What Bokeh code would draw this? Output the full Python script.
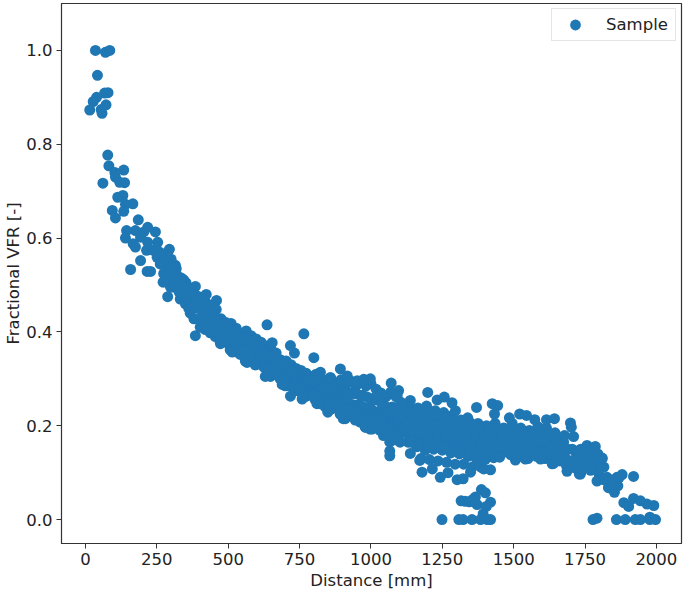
from bokeh.embed import file_html
from bokeh.resources import INLINE
from bokeh.plotting import figure
from bokeh.models import ColumnDataSource, FixedTicker, Legend, LegendItem, Range1d, PrintfTickFormatter

head_x = [35,70,85,42,79,67,39,27,72,15,55,58,78,82,134,103,105,61,120,137,131,113,166,140,134,94,105,185,144,218,245,140,175,204,193,167,175,253,218,214,294,238,193,158,216,228,251,274,263,315,286,274,309,344,272,321,298,385,288,344,423,374,403,459]
head_y = [1.0,.996,1.0,.947,.91,.909,.90,.891,.884,.873,.874,.866,.777,.754,.745,.74,.73,.717,.719,.718,.691,.687,.673,.672,.657,.659,.643,.639,.616,.623,.613,.60,.616,.613,.602,.588,.581,.591,.591,.574,.576,.574,.552,.533,.529,.529,.559,.556,.545,.542,.538,.524,.524,.511,.506,.502,.495,.497,.475,.481,.48,.485,.474,.467]

upper_x = [300,318,335,352,370,388,405,423,440,458,475,492,510,528,545,563,580,598,615,632,650,668,685,703,720,738,755,773,790,808,825,843,860,878,895,913,930,948,965,983,1000,1018,1035,1053,1070,1088]
upper_y = [.555,.535,.515,.505,.490,.478,.470,.462,.455,.448,.428,.420,.418,.408,.395,.402,.392,.385,.378,.370,.362,.355,.340,.338,.330,.322,.318,.312,.305,.310,.302,.296,.300,.290,.298,.288,.295,.285,.292,.285,.290,.278,.270,.262,.272,.262]

mid_x = [308,325,343,360,378,395,413,430,448,465,483,500,518,535,553,570,588,605,623,640,658,675,693,710,728,745,763,780,798,815,833,850,868,885,903,920,938,955,973,990,1008,1025,1043,1060,1078,1095]
mid_y = [.520,.500,.490,.470,.455,.450,.435,.425,.420,.408,.398,.395,.385,.375,.372,.365,.355,.350,.345,.335,.330,.320,.310,.305,.298,.292,.290,.285,.280,.278,.270,.268,.262,.258,.255,.250,.245,.245,.240,.235,.232,.228,.220,.218,.212,.208]

low_x = [315,332,350,367,385,402,420,437,455,472,490,507,525,542,560,577,595,612,630,648,665,682,700,718,735,752,770,788,805,822,840,858,875,892,910,927,945,962,980,997,1015,1032,1050,1067,1085,1102]
low_y = [.495,.470,.460,.440,.392,.410,.405,.398,.390,.378,.378,.362,.358,.352,.338,.345,.330,.335,.305,.305,.315,.300,.285,.263,.275,.272,.262,.265,.255,.247,.240,.235,.238,.225,.215,.222,.212,.208,.197,.193,.200,.190,.182,.175,.170,.165]

fill1_x = [410,445,480,515,550,585,620,655,690,725,760,795,830,865,900,935,970,1005,1040,1075]
fill1_y = [.452,.440,.412,.402,.388,.375,.362,.348,.322,.315,.305,.295,.288,.280,.275,.270,.265,.258,.245,.240]
fill2_x = [420,455,490,525,560,595,630,665,700,735,770,805,840,875,910,945,980,1015,1050,1085]
fill2_y = [.418,.405,.388,.370,.355,.342,.328,.312,.295,.283,.275,.268,.255,.250,.235,.228,.218,.215,.200,.190]
fill3_x = [260,275,290,305,322,338,355,372,390,408,425,442,460,478,496,512,530,548,565,582,600,618,635,652,670,688,705,722,740,758,775,792,810,828,845,862,880,898,915,932,950,968,985,1002,1020,1038,1055,1072,1090]
fill3_y = [.570,.560,.545,.535,.520,.505,.495,.475,.465,.445,.440,.432,.428,.415,.408,.402,.392,.385,.385,.375,.370,.362,.355,.350,.340,.330,.322,.315,.308,.302,.298,.292,.292,.285,.282,.282,.275,.275,.272,.268,.268,.262,.262,.252,.255,.248,.240,.232,.228]
fill4_x = [262,280,298,312,328,345,362,380,398,415,432,450,468,485,503,520,538,555,572,590,608,625,642,660,678,695,712,730,748,765,782,800,818,835,852,870,888,905,922,940,958,975,993,1010,1028,1045,1062,1080,1098]
fill4_y = [.545,.525,.510,.505,.485,.475,.450,.428,.428,.420,.410,.405,.392,.390,.378,.370,.362,.360,.350,.335,.340,.325,.318,.320,.305,.300,.285,.285,.278,.275,.270,.265,.262,.255,.248,.248,.242,.235,.235,.225,.225,.218,.215,.212,.205,.200,.195,.190,.182]

outer_a_x = [636,765,718,732,800,654,893,823,917,858,952,975,998,1071,1097,1092,1138,689,759,811,849,903,981,1004,1044,1066,1066,1066,1138,1171,1179,473,514,566,596]
outer_a_y = [.415,.396,.371,.355,.345,.377,.321,.314,.306,.303,.296,.299,.30,.291,.275,.264,.254,.288,.257,.247,.229,.215,.197,.193,.179,.165,.146,.136,.141,.126,.101,.375,.357,.335,.33]

t1_x = [1105,1135,1165,1195,1225,1255,1285,1315,1345,1375,1405,1435,1465,1495,1525,1555,1585,1615,1645,1675]
t1_y = [.250,.240,.238,.242,.232,.228,.222,.212,.208,.205,.200,.205,.195,.205,.195,.190,.198,.195,.185,.165]
t2_x = [1120,1150,1180,1210,1240,1270,1300,1330,1360,1390,1420,1450,1480,1510,1540,1570,1600,1630,1660,1690]
t2_y = [.225,.218,.215,.215,.212,.205,.198,.195,.190,.190,.185,.185,.180,.178,.172,.175,.180,.172,.160,.150]
t3_x = [1108,1138,1168,1198,1228,1258,1288,1318,1348,1378,1408,1438,1468,1498,1528,1558,1588,1618,1648,1678]
t3_y = [.205,.198,.195,.192,.190,.188,.180,.175,.172,.170,.168,.168,.165,.160,.158,.160,.158,.155,.145,.135]
t4_x = [1122,1152,1182,1212,1242,1272,1302,1332,1362,1392,1422,1452,1482,1512,1542,1572,1602,1632,1662,1692]
t4_y = [.185,.178,.172,.170,.168,.165,.160,.155,.152,.150,.152,.150,.148,.142,.140,.145,.140,.135,.125,.118]
t5_x = [1130,1160,1190,1220,1250,1280,1310,1340,1370,1400,1430,1460,1490,1520,1550,1580,1610,1640]
t5_y = [.165,.155,.148,.150,.148,.142,.140,.135,.130,.128,.132,.142,.138,.135,.130,.135,.130,.120]
t6_x = [1175,1205,1235,1265,1295,1325,1355,1385]
t6_y = [.130,.128,.125,.122,.118,.118,.112,.112]
t7_x = [1215,1243,1270,1302,1323,1349,1395,1419]
t7_y = [.108,.090,.100,.085,.087,.101,.108,.106]
t8_x = [1112,1142,1172,1202,1232,1262,1292,1322,1352,1382,1412,1442,1472,1502,1532,1562,1592,1622,1652]
t8_y = [.235,.228,.225,.228,.222,.218,.210,.205,.200,.198,.195,.195,.190,.192,.185,.182,.190,.184,.172]
t9_x = [1115,1145,1175,1205,1235,1265,1295,1325,1355,1385,1415,1445,1475,1505,1535,1565,1595,1625,1655,1685]
t9_y = [.195,.188,.182,.182,.180,.178,.170,.165,.162,.160,.160,.158,.157,.152,.150,.152,.150,.145,.135,.128]
t10_x = [1100,1128,1158,1188,1218,1248,1278,1308,1338,1368,1398,1428,1458,1488,1518,1548,1578,1608,1638,1668]
t10_y = [.215,.208,.205,.202,.200,.200,.192,.185,.182,.180,.178,.178,.175,.170,.168,.165,.168,.165,.155,.145]
t11_x = [1140,1170,1200,1230,1260,1290,1320,1350,1380,1410,1440,1470,1500,1530,1560,1590,1620,1650]
t11_y = [.165,.160,.160,.158,.155,.150,.148,.145,.140,.140,.142,.155,.150,.148,.148,.145,.142,.130]

outer_b_x = [1199,1232,1257,1284,1296,1370,1425,1444,1433,1339,1485,1521,1545,1574,1615,1643,1699,1702,1451,1506,1541,1594,1635,1687,1734]
outer_b_y = [.271,.255,.261,.249,.232,.239,.247,.243,.225,.217,.217,.225,.222,.213,.213,.215,.206,.197,.133,.127,.129,.129,.119,.103,.097]

tail_x = [1710,1678,1757,1786,1810,1816,1705,1720,1735,1750,1765,1780,1795,1810,1725,1745,1760,1775,1790,1805,1740,1770,1800,1715,1685,1700,1730,1880,1862,1920,1827,1792,1865,1832,1853,1850,1840,1815,1870]
tail_y = [.177,.179,.158,.156,.131,.112,.150,.140,.150,.140,.145,.135,.140,.130,.120,.125,.115,.125,.115,.110,.105,.105,.095,.110,.115,.125,.097,.096,.09,.092,.09,.082,.072,.068,.058,.075,.085,.085,.09]

low_group_x = [1387,1401,1316,1330,1345,1366,1372,1419,1404,1355,1393,1886,1903,1920,1944,1967,1991,1977,1792]
low_group_y = [.064,.057,.04,.039,.038,.048,.032,.037,.028,.042,.012,.036,.028,.045,.04,.033,.03,.005,.003]

zero_x = [1249,1308,1323,1354,1384,1407,1419,1778,1860,1891,1926,1944,1977,1997]
zero_y = [0,0,0,0,0,0,0,0,0,0,0,0,0,0]

groups = [(head_x,head_y),(upper_x,upper_y),(mid_x,mid_y),(low_x,low_y),(fill1_x,fill1_y),(fill2_x,fill2_y),
          (fill3_x,fill3_y),(fill4_x,fill4_y),
          (outer_a_x,outer_a_y),(t1_x,t1_y),(t2_x,t2_y),(t3_x,t3_y),(t4_x,t4_y),(t5_x,t5_y),(t6_x,t6_y),(t7_x,t7_y),
          (t8_x,t8_y),(t9_x,t9_y),(t10_x,t10_y),(t11_x,t11_y),
          (outer_b_x,outer_b_y),(tail_x,tail_y),(low_group_x,low_group_y),(zero_x,zero_y)]
distance, vfr = [], []
for gx, gy in groups:
    assert len(gx) == len(gy), (len(gx), len(gy))
    distance += gx
    vfr += gy

x_ticks = [0,250,500,750,1000,1250,1500,1750,2000]
y_ticks = [0.0,0.2,0.4,0.6,0.8,1.0]

p = figure(width=685, height=592, output_backend="svg", toolbar_location=None,
           x_range=Range1d(-84, 2088), y_range=Range1d(-0.051, 1.1),
           min_border_left=61, min_border_right=4, min_border_top=3, min_border_bottom=49)
p.grid.visible = False
p.outline_line_color = "#333333"
p.outline_line_width = 1.2
src = ColumnDataSource(dict(x=distance, y=vfr))
r = p.scatter("x", "y", source=src, size=11, color="#1f77b4", line_color=None)

for ax, label, ticks in ((p.xaxis[0], "Distance [mm]", x_ticks), (p.yaxis[0], "Fractional VFR [-]", y_ticks)):
    ax.axis_label = label
    ax.ticker = FixedTicker(ticks=ticks)
    ax.axis_label_text_font = "DejaVu Sans"
    ax.axis_label_text_font_size = "16.5px"
    ax.axis_label_text_font_style = "normal"
    ax.axis_label_text_color = "#222222"
    ax.major_label_text_font = "DejaVu Sans"
    ax.major_label_text_font_size = "16.5px"
    ax.major_label_text_color = "#222222"
    ax.axis_line_color = "#333333"
    ax.major_tick_line_color = "#333333"
    ax.major_tick_in = 0
    ax.major_tick_out = 5
    ax.minor_tick_line_color = None
p.yaxis[0].formatter = PrintfTickFormatter(format="%.1f")
p.xaxis[0].major_label_standoff = 4
p.xaxis[0].axis_label_standoff = 3
p.yaxis[0].major_label_standoff = 4
p.yaxis[0].axis_label_standoff = 0

legend = Legend(items=[LegendItem(label="Sample", renderers=[r])], location=(490, 502), margin=0,
                padding=2, glyph_width=42, glyph_height=27, label_standoff=10, label_width=67,
                label_text_font="DejaVu Sans", label_text_font_size="16.5px", label_text_color="#222222",
                border_line_color="#cccccc", border_line_width=1, background_fill_alpha=0.8)
p.add_layout(legend, "center")

html = file_html(p, INLINE)
html = html.replace("<head>", "<head><style>html,body{margin:0;padding:0;overflow:hidden}</style>", 1)
open("out.html", "w").write(html)
